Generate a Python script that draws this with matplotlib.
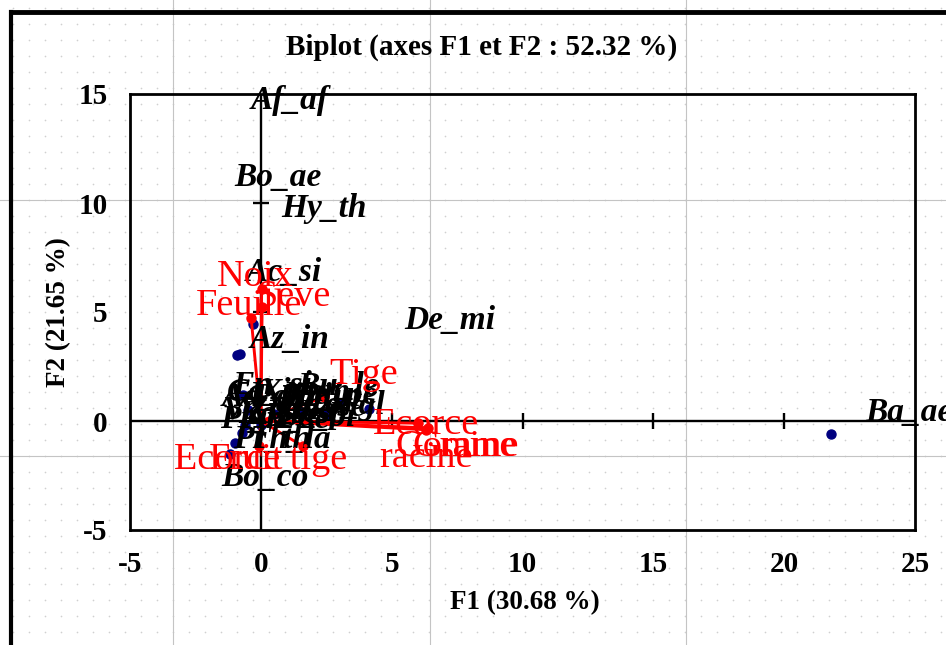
import numpy as np
import matplotlib
matplotlib.use("Agg")
import matplotlib.pyplot as plt

plt.rcParams['font.family'] = ['Liberation Serif', 'DejaVu Serif']

# axes
x_ticks = [-5, 0, 5, 10, 15, 20, 25]
y_ticks = [-5, 0, 5, 10, 15]
title = "Biplot (axes F1 et F2 : 52.32 %)"
x_title = "F1 (30.68 %)"
y_title = "F2 (21.65 %)"

# variables (red vectors)
var_names = ["Noix", "Seve", "Feuille", "Tige", "Ecorce\nracine", "Graine", "Gomme", "Ecorce tige", "Fruit"]
var_x = [0.03, 0.05, -0.37, 2.4, 6.0, 6.39, 6.3, 1.6, -0.07]
var_y = [6.05, 5.23, 4.72, 1.1, -0.1, -0.32, -0.4, -1.15, -1.15]
var_lab_x = [-0.22, 1.27, -0.45, 3.94, 6.31, 7.8, 7.5, 0.0, -0.57]
var_lab_y = [6.61, 5.69, 5.28, 2.11, -0.92, -1.19, -1.19, -1.79, -1.79]

# observations (dots)
obs_x = [-0.91, -0.8, -0.3, 4.13, 21.8, -0.99, -1.18, -0.72, -0.6, 0.0, -0.7, -0.5, 0.5, 1.5, 2.5, 3.0]
obs_y = [3.03, 3.07, 4.45, 0.55, -0.6, -1.0, -1.51, -0.55, -0.2, -0.2, 1.2, 0.5, 0.3, 0.4, 0.3, 0.8]

# observation labels
obs_names = ["Af_af", "Bo_ae", "Hy_th", "Ac_si", "De_mi", "Az_in", "Ba_ae", "Bo_co", "Pr_th", "Th_la",
             "En_si", "Bu_le", "Ad_di", "Pa_bi", "Ta_in", "Vi_pa", "Zi_ma", "Gu_se", "Co_gl", "Pi_re",
             "An_se", "Sc_bi", "Ca_pr", "Xi_am", "Ko_se", "St_sp", "Ce_pe"]
obs_lab_x = [1.12, 0.66, 2.41, 0.89, 7.23, 1.12, 24.78, 0.16, 0.43, 1.12,
             0.43, 2.95, 0.05, 1.19, 2.34, 0.05, 1.19, 2.34, 3.22, -0.15,
             1.0, 2.15, 0.35, 1.69, 0.73, 1.88, 2.84]
obs_lab_y = [14.72, 11.15, 9.77, 6.83, 4.63, 3.72, 0.41, -2.61, -0.87, -0.87,
             1.65, 1.56, 1.06, 1.06, 1.06, 0.50, 0.50, 0.60, 0.73, 0.05,
             0.05, 0.14, 1.33, 1.33, 0.28, 0.32, 1.15]

W, H = 946, 645
fig = plt.figure(figsize=(W / 100, H / 100), dpi=100)

# spreadsheet background
bg = fig.add_axes([0, 0, 1, 1], zorder=-1)
bg.set_xlim(0, W)
bg.set_ylim(H, 0)
bg.axis('off')
gx, gy = np.meshgrid(np.arange(173 - 16 * 11, W, 16), np.arange(200 - 16 * 12, H, 16))
bg.scatter(gx.ravel(), gy.ravel(), s=1.5, color='#d0d0d0', linewidths=0)
for v in [173, 430, 686]:
    bg.plot([v, v], [0, H], color='#c4c4c4', lw=0.8)
for h in [200, 456]:
    bg.plot([0, W], [h, h], color='#c4c4c4', lw=0.8)
bg.plot([11, 11], [12, H], color='black', lw=3)
bg.plot([11, W], [12, 12], color='black', lw=3.5)

ax = fig.add_axes([130 / W, (H - 530) / H, (915 - 130) / W, (530 - 94) / H])
ax.set_facecolor('none')
ax.set_xlim(-5, 25)
ax.set_ylim(-5, 15)
for s in ax.spines.values():
    s.set_linewidth(2)
ax.set_xticks(x_ticks)
ax.set_yticks(y_ticks)
ax.set_xticklabels([str(t) for t in x_ticks], fontsize=21, fontweight='bold')
ax.set_yticklabels([str(t) for t in y_ticks], fontsize=21, fontweight='bold')
ax.tick_params(length=0)
ax.tick_params(axis='x', pad=15)
ax.tick_params(axis='y', pad=16)

ax.axhline(0, color='black', lw=1.7, zorder=2)
ax.axvline(0, color='black', lw=1.7, zorder=2)
ax.plot([t for t in x_ticks[2:-1]], [0] * 4, ls='none', marker='|', ms=11, mew=1.7, color='black', zorder=2)
ax.plot([0, 0], [5, 10], ls='none', marker='_', ms=11, mew=1.7, color='black', zorder=2)

ax.plot(obs_x, obs_y, ls='none', marker='o', ms=6.5, color='#000080', zorder=3)

for x, y in zip(var_x, var_y):
    ax.plot([0, x], [0, y], color='red', lw=2.1, zorder=4)
ax.plot(var_x, var_y, ls='none', marker='o', ms=6.5, color='red', zorder=4)

for name, x, y in zip(obs_names, obs_lab_x, obs_lab_y):
    ax.text(x, y, name, fontsize=24, fontweight='bold', fontstyle='italic',
            ha='center', va='center', color='black', zorder=5, clip_on=False)

for name, x, y in zip(var_names, var_lab_x, var_lab_y):
    ax.text(x, y, name, fontsize=27.5, color='red', ha='center', va='center',
            linespacing=0.95, zorder=6, clip_on=False)

fig.text(482 / W, 1 - 47 / H, title, fontsize=21, fontweight='bold', ha='center', va='center')
fig.text(525 / W, 1 - 603 / H, x_title, fontsize=19.5, fontweight='bold', ha='center', va='center')
fig.text(59 / W, 1 - 312 / H, y_title, fontsize=19.5, fontweight='bold', ha='center', va='center', rotation=90)

fig.savefig("out.png", dpi=100)
